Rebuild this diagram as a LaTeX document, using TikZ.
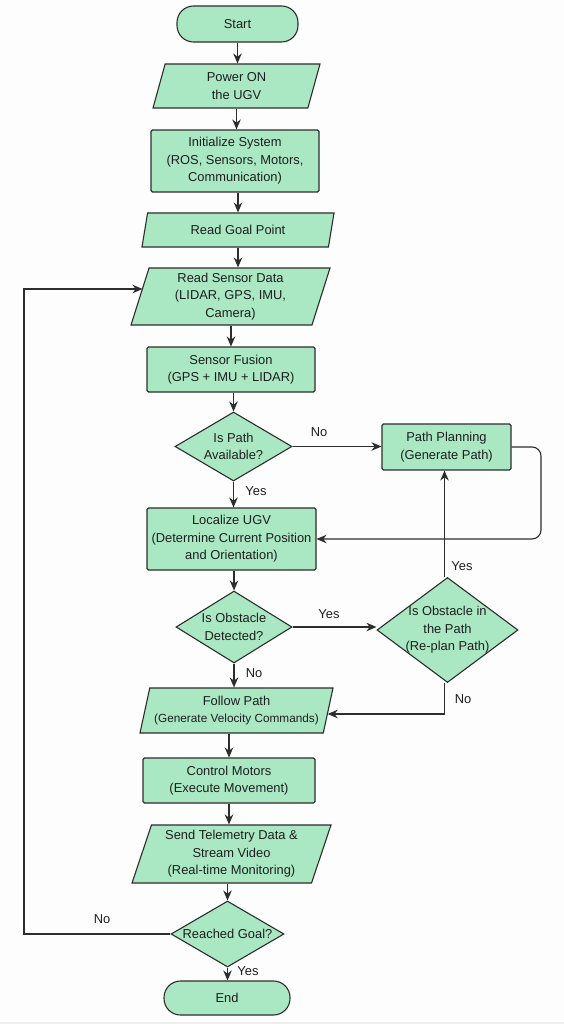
\documentclass[tikz,border=0pt]{standalone}
\usepackage{fontspec}
\setmainfont{Liberation Sans}
\usetikzlibrary{shapes.geometric,arrows.meta}
\definecolor{mint}{RGB}{170,232,196}
\definecolor{edgec}{RGB}{45,45,45}
\definecolor{txtc}{RGB}{30,30,30}
\definecolor{bgc}{RGB}{253,253,253}
\begin{document}
\begin{tikzpicture}[x=1pt,y=-1pt,
  base/.style={draw=edgec, fill=mint, line width=1.1pt, text=txtc,
    font=\fontsize{12.9}{17.5}\selectfont, align=center, inner sep=0pt},
  term/.style={base, rectangle, rounded corners=16.5pt},
  proc/.style={base, rectangle, rounded corners=1.5pt},
  io/.style 2 args={base, trapezium, trapezium left angle=#1, trapezium right angle=#2,
    trapezium stretches body},
  dec/.style={base, diamond},
  arr/.style={-{Stealth[length=10pt,width=8.5pt]}, line width=1.1pt, draw=edgec},
  lab/.style={font=\fontsize{12.9}{15}\selectfont, text=txtc, inner sep=0pt},
  dtext/.style={font=\fontsize{12.9}{17.5}\selectfont, text=txtc, align=center, inner sep=0pt}
]
\useasboundingbox (0,0) rectangle (564,1024);
\fill[bgc] (0,0) rectangle (564,1024);
\fill[black!7] (0,1022) rectangle (564,1024);

% nodes
\node[term, minimum width=121pt, minimum height=36pt] (start) at (237.5,24) {Start};
\node[io={65.5}{114.5}, minimum width=167pt, minimum height=44pt] (pwr) at (236.5,86) {Power ON\\the UGV};
\node[proc, minimum width=168pt, minimum height=62pt] (init) at (235,161) {Initialize System\\(ROS, Sensors, Motors,\\Communication)};
\node[io={59.5}{120.5}, minimum width=192pt, minimum height=34pt] (goal) at (238,230) {Read Goal Point};
\node[io={69}{111}, minimum width=199pt, minimum height=57pt] (rsd) at (230.5,296.5) {Read Sensor Data\\(LIDAR, GPS, IMU,\\Camera)};
\node[proc, minimum width=168pt, minimum height=45pt] (fus) at (231,369.5) {Sensor Fusion\\(GPS + IMU + LIDAR)};
\node[dec, minimum width=117pt, minimum height=69pt] (pav) at (233.5,446.5) {};
\node[dtext] (pavt) at (pav) {Is Path\\Available?};
\node[proc, minimum width=129pt, minimum height=46pt] (pp) at (446.5,447) {Path Planning\\(Generate Path)};
\node[proc, minimum width=169pt, minimum height=62pt] (loc) at (231.5,539) {Localize UGV\\(Determine Current Position\\and Orientation)};
\node[dec, minimum width=116pt, minimum height=72pt] (obs) at (234,627) {};
\node[dtext] (obst) at (obs) {Is Obstacle\\Detected?};
\node[dec, minimum width=141pt, minimum height=105pt] (oip) at (447.5,630) {};
\node[dtext] (oipt) at (oip) {Is Obstacle in\\the Path\\(Re-plan Path)};
\node[io={71.6}{108.4}, minimum width=193pt, minimum height=45pt] (fp) at (236.5,710.5)
  {Follow Path\\{\fontsize{11.8}{16}\selectfont (Generate Velocity Commands)}};
\node[proc, minimum width=172pt, minimum height=45pt] (cm) at (229,780.5) {Control Motors\\(Execute Movement)};
\node[io={67.5}{112.5}, minimum width=199pt, minimum height=58pt] (tel) at (231.5,854) {Send Telemetry Data \&\\Stream Video\\(Real-time Monitoring)};
\node[dec, minimum width=113pt, minimum height=66pt] (rg) at (227.5,934) {};
\node[dtext] (rgt) at (rg) {Reached Goal?};
\node[term, minimum width=126pt, minimum height=34pt] (end) at (227,998) {End};

% helper coordinates
\coordinate (loopx) at (24,0);
\coordinate (ppr) at (541,0);
\coordinate (rsdin) at ([shift={(3,-7.5)}]rsd.west);
\coordinate (fpin) at ([shift={(-1,3.5)}]fp.east);

% connectors
\draw[arr] (start.south) -- (start.south |- pwr.north);
\draw[arr] (pwr.south) -- (pwr.south |- init.north);
\draw[arr] (goal.north |- init.south) -- (goal.north);
\draw[arr] (goal.south) -- (goal.south |- rsd.north);
\draw[arr] (fus.north |- rsd.south) -- (fus.north);
\draw[arr] (pav.north |- fus.south) -- (pav.north);
\draw[arr] (pav.south) -- (pav.south |- loc.north);
\draw[arr] (pav.east) -- (pav.east -| pp.west);
\draw[arr, rounded corners=9pt] (pp.east) -- (pp.east -| ppr) -- (ppr |- loc.east) -- (loc.east);
\draw[arr] (obs.north |- loc.south) -- (obs.north);
\draw[arr] (obs.east) -- (obs.east -| oip.west);
\draw[arr] ([xshift=-3pt]oip.north) -- ([xshift=-3pt]oip.north |- pp.south);
\draw[arr] (obs.south) -- (obs.south |- fp.north);
\draw[arr] ([xshift=-3pt]oip.south) -- ([xshift=-3pt]oip.south |- fpin) -- (fpin);
\draw[arr] (cm.north |- fp.south) -- (cm.north);
\draw[arr] (cm.south) -- (cm.south |- tel.north);
\draw[arr] (rg.north |- tel.south) -- (rg.north);
\draw[arr] (rg.south) -- (rg.south |- end.north);
\draw[arr] (rg.west) -- (rg.west -| loopx) -- (loopx |- rsdin) -- (rsdin);

% labels
\node[lab] (l1) at (319,432) {No};
\node[lab] (l2) at (256,491) {Yes};
\node[lab] (l3) at (462,566) {Yes};
\node[lab] (l4) at (329,614) {Yes};
\node[lab] (l5) at (254,673) {No};
\node[lab] (l6) at (463,699) {No};
\node[lab] (l7) at (102,919) {No};
\node[lab] (l8) at (248,971) {Yes};
\end{tikzpicture}
\end{document}
